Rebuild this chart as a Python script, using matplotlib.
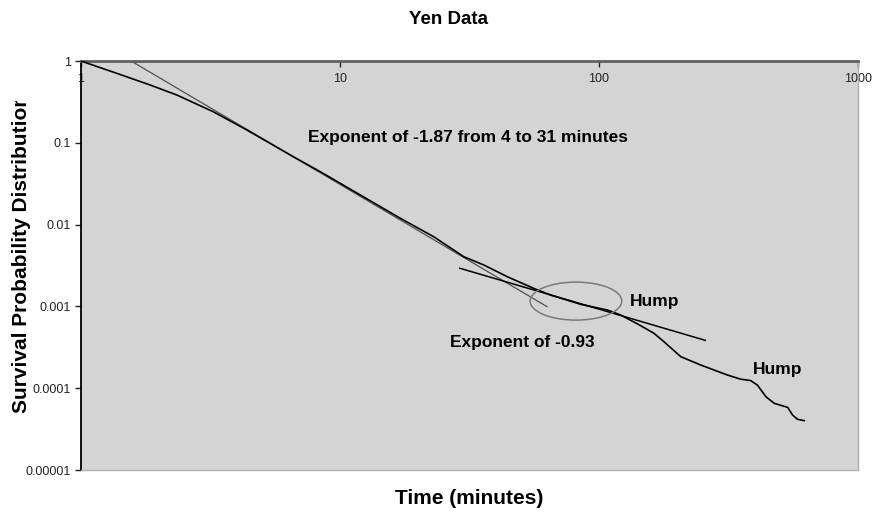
import numpy as np
import matplotlib
matplotlib.use("Agg")
import matplotlib.pyplot as plt
from matplotlib.patches import Ellipse
from matplotlib.transforms import Bbox, TransformedBbox

plt.rcParams['font.family'] = ['Liberation Sans', 'DejaVu Sans']

# survival curve (time in minutes, survival probability)
time_min = [1, 1.374, 1.848, 2.344, 3.24, 4.37, 6.60, 8.39, 17.1, 23.0,
            30.05, 35.9, 44.2, 56.0, 65.0, 84.9, 107.7, 121.2, 142.2, 163,
            178, 206.8, 247, 313, 352, 385, 409, 441, 475, 535,
            559, 584, 620]
survival = [1, 0.707, 0.509, 0.384, 0.240, 0.1434, 0.0676, 0.0443, 0.01194, 0.00711,
            0.00405, 0.00321, 0.00231, 0.00166, 0.001377, 0.001061, 0.000903, 0.000785, 0.000601, 0.000469,
            0.000371, 0.000243, 0.000192, 0.000145, 0.000129, 0.000124, 0.000109, 7.87e-5, 6.53e-5, 5.83e-5,
            4.70e-5, 4.17e-5, 4.01e-5]

# power law fits
fit1_exp = -1.87
fit1_coef = 2.3
fit1_range = [1.6, 63]
fit2_exp = -0.93
fit2_coef = 0.0671
fit2_range = [29, 257]

x_ticks = [1, 10, 100, 1000]
x_tick_labels = ['1', '10', '100', '1000']
y_ticks = [1, 0.1, 0.01, 0.001, 0.0001, 0.00001]
y_tick_labels = ['1', '0.1', '0.01', '0.001', '0.0001', '0.00001']

fig = plt.figure(figsize=(8.72, 5.12), dpi=100)
ax = fig.add_axes([81/872, 42/512, 777/872, 409/512])
ax.set_facecolor('#d4d4d4')

ax.plot(time_min, survival, color='black', lw=1.2, zorder=3)

x1 = np.array(fit1_range)
ax.plot(x1, fit1_coef * x1 ** fit1_exp, color='#505050', lw=0.9, zorder=2)
x2 = np.array(fit2_range)
ax.plot(x2, fit2_coef * x2 ** fit2_exp, color='black', lw=1.1, zorder=2)

# circle round the first hump
ax.add_patch(Ellipse((0.637, 0.413), 0.118, 0.093, transform=ax.transAxes,
                     fill=False, ec='#7a7a7a', lw=1.1, zorder=4))

ax.set_xscale('log')
ax.set_yscale('log')
ax.set_xlim(1, 1000)
ax.set_ylim(1e-5, 1)
ax.minorticks_off()
ax.set_xticks(x_ticks)
ax.set_xticklabels(x_tick_labels)
ax.set_yticks(y_ticks)
ax.set_yticklabels(y_tick_labels)

ax.xaxis.set_ticks_position('top')
ax.tick_params(axis='x', which='major', direction='in', length=4, width=1,
               pad=-17, labelsize=9, labeltop=True, labelbottom=False,
               colors='#222222')
ax.tick_params(axis='y', which='major', direction='out', length=4, width=1,
               pad=3, labelsize=9, colors='#222222')

ax.spines['left'].set_color('black')
ax.spines['left'].set_linewidth(1.3)
ax.spines['top'].set_color('#606060')
ax.spines['top'].set_linewidth(2)
ax.spines['right'].set_color('#b0b0b0')
ax.spines['bottom'].set_color('#b0b0b0')
ax.spines['right'].set_linewidth(1)
ax.spines['bottom'].set_linewidth(1)

txt = dict(fontsize=12.5, fontweight='bold', va='center', ha='left', zorder=5)
ax.text(7.54, 0.1145, 'Exponent of -1.87 from 4 to 31 minutes', **txt)
ax.text(26.7, 3.57e-4, 'Exponent of -0.93', **txt)
ax.text(131.3, 1.14e-3, 'Hump', **txt)
ax.text(391.4, 1.67e-4, 'Hump', **txt)

fig.text(448/872, 1 - 19/512, 'Yen Data', ha='center', va='center',
         fontsize=13.5, fontweight='bold')
fig.text(469/872, 1 - 498/512, 'Time (minutes)', ha='center', va='center',
         fontsize=15, fontweight='bold')

# y label is cut off at the top like in the original
ylab = fig.text(22/872, 1 - 413/512, 'Survival Probability Distribution',
                rotation=90, ha='center', va='bottom', fontsize=15,
                fontweight='bold')
ylab.set_clip_box(TransformedBbox(Bbox.from_extents(0, 0, 1, 1 - 101/512),
                                  fig.transFigure))
ylab.set_clip_on(True)

fig.savefig('out.png', dpi=100, facecolor='white')
